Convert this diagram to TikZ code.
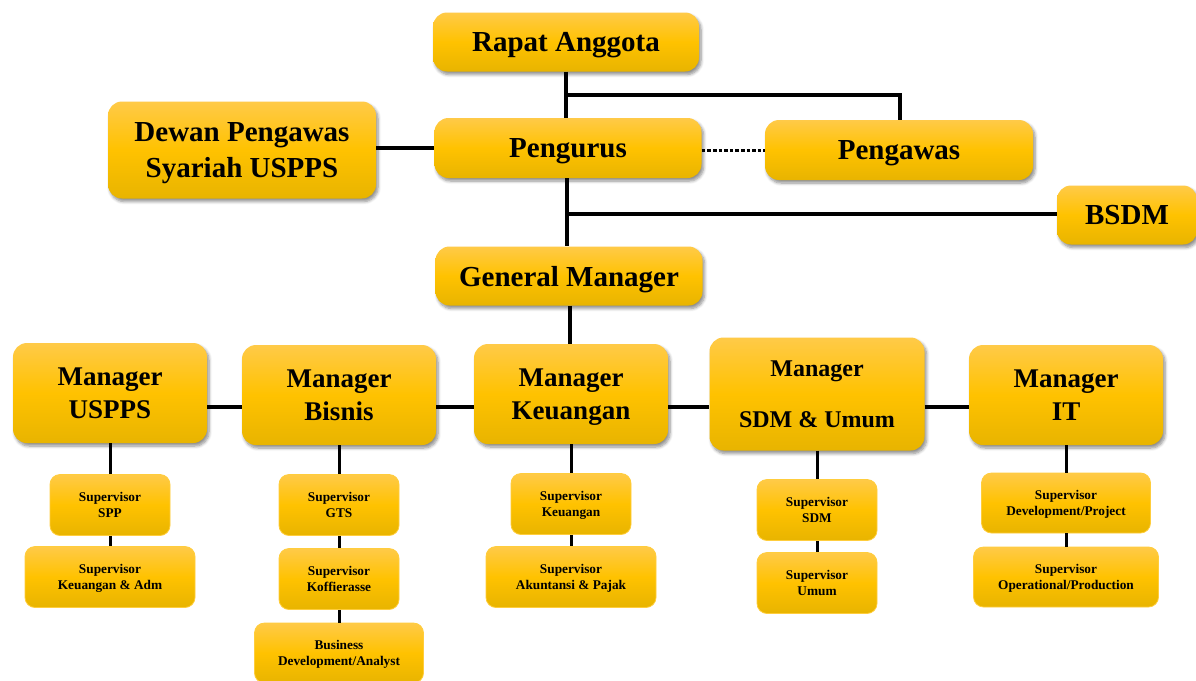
\documentclass[tikz,border=0pt]{standalone}
\usepackage{fontspec}
\setmainfont{Liberation Serif}
\usetikzlibrary{shadows,shadows.blur}
\definecolor{gtop}{RGB}{255,202,72}
\definecolor{gmid}{RGB}{255,194,0}
\definecolor{gbot}{RGB}{232,180,0}
\definecolor{gline}{RGB}{255,205,60}
\newcommand{\nd}[1]{\raisebox{0pt}[\height][0pt]{#1}}
\tikzset{
  bigbox/.style={rounded corners=14pt, top color=gtop, bottom color=gbot, middle color=gmid,
    draw=none, inner sep=0pt, align=center,
    blur shadow={shadow xshift=2pt, shadow yshift=-3pt, shadow blur steps=6, shadow blur radius=3pt, shadow opacity=45},
    font=\bfseries\fontsize{29}{36}\selectfont},
  mgrbox/.style={bigbox, minimum width=194pt, minimum height=100pt,
    font=\bfseries\fontsize{27}{33}\selectfont},
  supbox/.style={rounded corners=10pt, top color=gtop, bottom color=gbot, middle color=gmid,
    draw=gline, line width=0.8pt, inner sep=0pt, align=center, minimum height=61pt,
    font=\bfseries\fontsize{13.3}{16}\selectfont},
  conn/.style={line width=3.6pt, black},
  sconn/.style={line width=3pt, black}
}
\begin{document}
\begin{tikzpicture}[x=1pt,y=-1pt]
\useasboundingbox (0,0) rectangle (1196,680);
% top level
\node[bigbox, minimum width=266pt, minimum height=59pt] (ra) at (566,42) {\nd{Rapat Anggota}};
\node[bigbox, minimum width=268pt, minimum height=97pt] (dp) at (242,150) {Dewan Pengawas\\\nd{Syariah USPPS}};
\node[bigbox, minimum width=267pt, minimum height=60pt] (pg) at (568,148) {\nd{Pengurus}};
\node[bigbox, minimum width=268pt, minimum height=60pt] (pw) at (899,150) {\nd{Pengawas}};
\node[bigbox, minimum width=140pt, minimum height=59pt] (bs) at (1127,215) {\nd{BSDM}};
\node[bigbox, minimum width=267pt, minimum height=59pt] (gm) at (569,276) {\nd{General Manager}};
% managers
\node[mgrbox] (mu) at (110,393) {Manager\\\nd{USPPS}};
\node[mgrbox] (mb) at (339,395) {Manager\\\nd{Bisnis}};
\node[mgrbox] (mk) at (571,394) {Manager\\\nd{Keuangan}};
\node[mgrbox, minimum width=215pt, minimum height=113pt, font=\bfseries\fontsize{24}{33}\selectfont] (ms) at (817,394) {Manager\\[18pt]\nd{SDM \& Umum}};
\node[mgrbox] (mi) at (1066,395) {Manager\\\nd{IT}};
% supervisors
\node[supbox, minimum width=120pt] (s11) at (110,505) {Supervisor\\\nd{SPP}};
\node[supbox, minimum width=170pt] (s12) at (110,577) {Supervisor\\\nd{Keuangan \& Adm}};
\node[supbox, minimum width=120pt] (s21) at (339,505) {Supervisor\\\nd{GTS}};
\node[supbox, minimum width=120pt] (s22) at (339,579) {Supervisor\\\nd{Koffierasse}};
\node[supbox, minimum width=169pt, minimum height=60pt] (s23) at (339,653) {Business\\\nd{Development/Analyst}};
\node[supbox, minimum width=120pt] (s31) at (571,504) {Supervisor\\\nd{Keuangan}};
\node[supbox, minimum width=170pt] (s32) at (571,577) {Supervisor\\\nd{Akuntansi \& Pajak}};
\node[supbox, minimum width=120pt] (s41) at (817,510) {Supervisor\\\nd{SDM}};
\node[supbox, minimum width=120pt] (s42) at (817,583) {Supervisor\\\nd{Umum}};
\node[supbox, minimum width=169pt, minimum height=60pt] (s51) at (1066,503) {Supervisor\\\nd{Development/Project}};
\node[supbox, minimum width=185pt, minimum height=60pt] (s52) at (1066,577) {Supervisor\\\nd{Operational/Production}};
% connectors top
\coordinate (ya) at (0,95);
\coordinate (yb) at (0,214);
\coordinate (row) at (0,407);
\draw[conn] (ra.south) -- (ra.south |- pg.north);
\draw[conn] (ra.south |- ya) -| ([xshift=1pt]pw.north);
\draw[conn] (dp.east |- pg.west) -- (pg.west);
\draw[conn, dotted, line width=3pt] (pg.east |- pw.west) -- (pw.west);
\draw[conn] ([xshift=-1pt]pg.south) -- ([xshift=-1pt]pg.south |- gm.north);
\draw[conn] ([xshift=-1pt]pg.south |- yb) -- (bs.west |- yb);
\draw[conn] ([xshift=1pt]gm.south) -- ([xshift=1pt]gm.south |- mk.north);
% manager row
\draw[conn] (mu.east |- row) -- (mb.west |- row);
\draw[conn] (mb.east |- row) -- (mk.west |- row);
\draw[conn] (mk.east |- row) -- (ms.west |- row);
\draw[conn] (ms.east |- row) -- (mi.west |- row);
% supervisor links
\draw[sconn] (mu.south) -- (s11.north);
\draw[sconn] (s11.south) -- (s12.north);
\draw[sconn] (mb.south) -- (s21.north);
\draw[sconn] (s21.south) -- (s22.north);
\draw[sconn] (s22.south) -- (s23.north);
\draw[sconn] (mk.south) -- (s31.north);
\draw[sconn] (s31.south) -- (s32.north);
\draw[sconn] (ms.south) -- (s41.north);
\draw[sconn] (s41.south) -- (s42.north);
\draw[sconn] (mi.south) -- (s51.north);
\draw[sconn] (s51.south) -- (s52.north);
\end{tikzpicture}
\end{document}
